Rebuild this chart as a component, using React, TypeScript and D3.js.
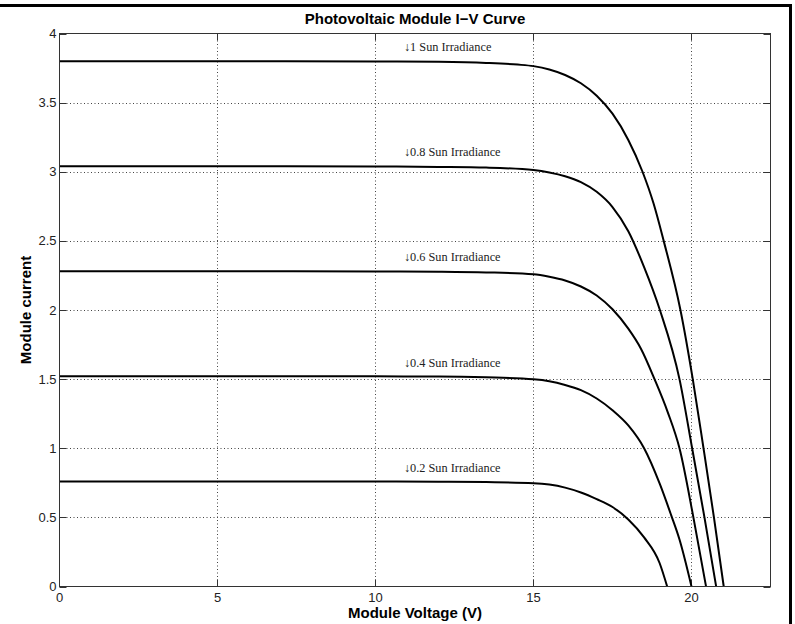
import React from "react";
import * as d3 from "d3";

const irradianceLabels = ["1", "0.8", "0.6", "0.4", "0.2"];
const shortCircuit = [3.8, 3.04, 2.28, 1.52, 0.76];

const v10 = [0, 5, 10, 12, 13.5, 14.5, 15, 15.5, 16, 16.5, 17, 17.5, 18, 18.45, 18.8, 19.12, 19.65, 20.04, 20.38, 20.71, 21.02];
const i10 = [3.8, 3.8, 3.798, 3.795, 3.787, 3.775, 3.764, 3.74, 3.7, 3.64, 3.55, 3.42, 3.23, 3.0, 2.77, 2.5, 2.0, 1.5, 1.0, 0.5, 0];

const v08 = [0, 5, 10, 12, 13.5, 15, 15.5, 16, 16.5, 17, 17.5, 18, 18.5, 19, 19.62, 20.02, 20.41, 20.78];
const i08 = [3.04, 3.04, 3.038, 3.035, 3.03, 3.012, 2.995, 2.968, 2.925, 2.855, 2.745, 2.57, 2.31, 2.0, 1.5, 1.0, 0.5, 0];

const v06 = [0, 5, 10, 12, 13.5, 15, 15.5, 16, 16.5, 17, 17.5, 18, 18.4, 18.83, 19.25, 19.62, 20.06, 20.46];
const i06 = [2.28, 2.28, 2.279, 2.277, 2.272, 2.258, 2.24, 2.213, 2.17, 2.105, 2.005, 1.865, 1.72, 1.5, 1.26, 1.0, 0.5, 0];

const v04 = [0, 5, 10, 12, 13.5, 15, 15.5, 16, 16.5, 17, 17.5, 18, 18.5, 19, 19.35, 19.62, 20.0];
const i04 = [1.52, 1.52, 1.52, 1.519, 1.513, 1.499, 1.485, 1.458, 1.42, 1.36, 1.275, 1.165, 1.0, 0.74, 0.52, 0.34, 0];

const v02 = [0, 5, 10, 12, 13.5, 15, 15.5, 16, 16.5, 17, 17.5, 18, 18.5, 18.99, 19.23];
const i02 = [0.76, 0.76, 0.76, 0.758, 0.755, 0.747, 0.737, 0.715, 0.68, 0.632, 0.575, 0.485, 0.355, 0.17, 0];

const xTicks = [0, 5, 10, 15, 20];
const yTicks = [0, 0.5, 1, 1.5, 2, 2.5, 3, 3.5, 4];

const seriesV = [v10, v08, v06, v04, v02];
const seriesI = [i10, i08, i06, i04, i02];

const W = 795;
const H = 624;
const L = 59.5, R = 770.5, T = 33.5, B = 586.5;

export default function App() {
  const x = d3.scaleLinear().domain([0, 22.5]).range([L, R]);
  const y = d3.scaleLinear().domain([0, 4]).range([B, T]);
  const line = d3
    .line<[number, number]>()
    .x((d) => x(d[0]))
    .y((d) => y(d[1]))
    .curve(d3.curveMonotoneX);

  const sans = "'Liberation Sans', Arial, Helvetica, sans-serif";
  const serif = "'Liberation Serif', 'Times New Roman', 'DejaVu Serif', serif";
  const tickLen = 7;
  const axisColor = "#333";
  const py = (t: number) => Math.round(y(t)) + 0.5;

  return (
    <svg
      width={W}
      height={H}
      style={{ position: "absolute", left: 0, top: 0, background: "#fff" }}
    >
      <rect x={0} y={0} width={W} height={H} fill="#fff" />
      {/* outer frame */}
      <rect x={0} y={4} width={792} height={3} fill="#000" />
      <rect x={789} y={4} width={3} height={H - 4} fill="#000" />

      {/* grid */}
      {xTicks.slice(1).map((t) => (
        <line
          key={"gx" + t}
          x1={x(t)}
          x2={x(t)}
          y1={T}
          y2={B}
          stroke="#444"
          strokeWidth={1}
          strokeDasharray="1,2.5"
        />
      ))}
      {yTicks.slice(1, -1).map((t) => (
        <line
          key={"gy" + t}
          x1={L}
          x2={R}
          y1={py(t)}
          y2={py(t)}
          stroke="#444"
          strokeWidth={1}
          strokeDasharray="1,2.5"
        />
      ))}

      {/* ticks */}
      {xTicks.map((t) => (
        <g key={"tx" + t}>
          <line x1={x(t)} x2={x(t)} y1={B} y2={B - tickLen} stroke={axisColor} />
          <line x1={x(t)} x2={x(t)} y1={T} y2={T + tickLen} stroke={axisColor} />
          <text
            x={x(t)}
            y={B + 15}
            textAnchor="middle"
            fontFamily={sans}
            fontSize={13}
            fill="#222"
          >
            {t}
          </text>
        </g>
      ))}
      {yTicks.map((t) => (
        <g key={"ty" + t}>
          <line x1={L} x2={L + tickLen} y1={py(t)} y2={py(t)} stroke={axisColor} />
          <line x1={R} x2={R - tickLen} y1={py(t)} y2={py(t)} stroke={axisColor} />
          <text
            x={L - 3}
            y={y(t) + 4.5}
            textAnchor="end"
            fontFamily={sans}
            fontSize={13}
            fill="#222"
          >
            {t}
          </text>
        </g>
      ))}

      {/* curves */}
      {seriesV.map((vs, k) => (
        <path
          key={"c" + k}
          d={line(vs.map((v, j) => [v, seriesI[k][j]] as [number, number])) || ""}
          fill="none"
          stroke="#000"
          strokeWidth={2}
        />
      ))}

      {/* labels */}
      {irradianceLabels.map((lab, k) => (
        <text
          key={"l" + k}
          x={x(10.9)}
          y={y(shortCircuit[k] + 0.1) + 4}
          fontFamily={serif}
          fontSize={12.3}
          fill="#222"
        >
          {"\u2193" + lab + " Sun Irradiance"}
        </text>
      ))}

      {/* box */}
      <rect x={L} y={T} width={R - L} height={B - T} fill="none" stroke={axisColor} strokeWidth={1} />

      {/* titles */}
      <text
        x={(L + R) / 2}
        y={24}
        textAnchor="middle"
        fontFamily={sans}
        fontWeight="bold"
        fontSize={15}
        fill="#000"
      >
        Photovoltaic Module I−V Curve
      </text>
      <text
        x={(L + R) / 2}
        y={618}
        textAnchor="middle"
        fontFamily={sans}
        fontWeight="bold"
        fontSize={15}
        fill="#000"
      >
        Module Voltage (V)
      </text>
      <text
        transform={`translate(31, ${(T + B) / 2}) rotate(-90)`}
        textAnchor="middle"
        fontFamily={sans}
        fontWeight="bold"
        fontSize={15}
        fill="#000"
      >
        Module current
      </text>
    </svg>
  );
}
